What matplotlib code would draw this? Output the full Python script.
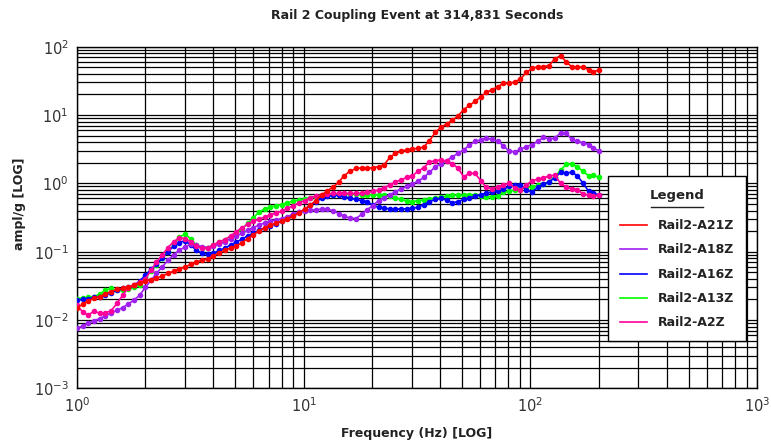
import matplotlib
matplotlib.use("Agg")
import matplotlib.pyplot as plt
from matplotlib.lines import Line2D
from matplotlib.patches import Rectangle
from matplotlib.ticker import LogLocator

# frequency bands (Hz), roughly 1/12 octave
freq = [1.00, 1.06, 1.12, 1.19, 1.26, 1.33, 1.41, 1.50, 1.59, 1.68, 1.78, 1.89,
        2.00, 2.12, 2.24, 2.38, 2.52, 2.67, 2.83, 3.00, 3.17, 3.36, 3.56, 3.78,
        4.00, 4.24, 4.49, 4.76, 5.04, 5.34, 5.66, 5.99, 6.35, 6.73, 7.13, 7.55,
        8.00, 8.48, 8.98, 9.51, 10.1, 10.7, 11.3, 12.0, 12.7, 13.5, 14.3, 15.1,
        16.0, 17.0, 18.0, 19.0, 20.2, 21.4, 22.6, 24.0, 25.4, 26.9, 28.5, 30.2,
        32.0, 33.9, 35.9, 38.1, 40.3, 42.7, 45.3, 48.0, 50.8, 53.8, 57.0, 60.4,
        64.0, 67.8, 71.8, 76.1, 80.6, 85.4, 90.5, 95.9, 102, 108, 114, 121,
        128, 136, 144, 152, 161, 171, 181, 190, 200]

a21z = [0.015, 0.017, 0.019, 0.021, 0.022, 0.024, 0.026, 0.028, 0.029, 0.030, 0.032, 0.035,
        0.037, 0.039, 0.041, 0.044, 0.048, 0.052, 0.056, 0.060, 0.065, 0.071, 0.075, 0.079,
        0.087, 0.095, 0.105, 0.113, 0.121, 0.135, 0.155, 0.178, 0.200, 0.225, 0.245, 0.262,
        0.280, 0.305, 0.330, 0.370, 0.420, 0.480, 0.560, 0.670, 0.780, 0.880, 1.05, 1.30,
        1.50, 1.65, 1.68, 1.66, 1.70, 1.76, 1.85, 2.40, 2.75, 2.95, 3.10, 3.20,
        3.25, 3.40, 4.20, 5.60, 6.60, 7.40, 8.40, 9.70, 12.0, 13.8, 15.8, 18.5,
        21.5, 23.5, 26.0, 29.0, 29.0, 30.5, 33.5, 42.0, 48.0, 51.0, 51.0, 53.0,
        66.0, 74.0, 60.0, 51.0, 50.0, 51.0, 45.6, 43.0, 45.6]

a18z = [0.0075, 0.0082, 0.0090, 0.0098, 0.0105, 0.0115, 0.0125, 0.0138, 0.0152, 0.0170, 0.0195, 0.023,
        0.030, 0.038, 0.048, 0.060, 0.075, 0.090, 0.105, 0.118, 0.128, 0.125, 0.118, 0.115,
        0.120, 0.128, 0.140, 0.155, 0.168, 0.185, 0.205, 0.225, 0.245, 0.265, 0.280, 0.293,
        0.305, 0.325, 0.355, 0.380, 0.400, 0.405, 0.410, 0.420, 0.415, 0.400, 0.360, 0.330,
        0.310, 0.305, 0.350, 0.410, 0.470, 0.560, 0.620, 0.680, 0.750, 0.830, 0.900, 0.980,
        1.08, 1.22, 1.45, 1.75, 1.95, 2.15, 2.45, 2.75, 3.10, 3.60, 4.10, 4.35,
        4.55, 4.40, 4.15, 3.55, 2.95, 2.90, 3.15, 3.45, 3.70, 4.10, 4.70, 4.50,
        4.55, 5.50, 5.50, 4.40, 4.10, 3.95, 3.70, 3.30, 3.00]

a16z = [0.0195, 0.020, 0.0205, 0.0215, 0.022, 0.023, 0.025, 0.027, 0.029, 0.030, 0.032, 0.037,
        0.045, 0.055, 0.065, 0.080, 0.100, 0.120, 0.136, 0.145, 0.125, 0.105, 0.095, 0.092,
        0.095, 0.104, 0.113, 0.125, 0.138, 0.152, 0.170, 0.185, 0.205, 0.222, 0.238, 0.258,
        0.280, 0.310, 0.340, 0.375, 0.410, 0.480, 0.540, 0.600, 0.645, 0.665, 0.670, 0.640,
        0.610, 0.580, 0.560, 0.540, 0.480, 0.445, 0.430, 0.425, 0.420, 0.420, 0.425, 0.430,
        0.450, 0.490, 0.540, 0.580, 0.600, 0.570, 0.520, 0.540, 0.580, 0.610, 0.650, 0.680,
        0.720, 0.750, 0.770, 0.820, 0.900, 0.950, 0.960, 0.800, 0.750, 0.880, 0.980, 1.05,
        1.20, 1.45, 1.42, 1.45, 1.30, 1.00, 0.760, 0.710, 0.680]

a13z = [0.0205, 0.021, 0.0215, 0.022, 0.024, 0.027, 0.029, 0.027, 0.027, 0.028, 0.030, 0.033,
        0.042, 0.052, 0.064, 0.080, 0.100, 0.125, 0.165, 0.180, 0.155, 0.125, 0.113, 0.115,
        0.125, 0.138, 0.150, 0.165, 0.185, 0.215, 0.260, 0.310, 0.380, 0.420, 0.450, 0.470,
        0.490, 0.520, 0.550, 0.570, 0.590, 0.620, 0.640, 0.660, 0.670, 0.680, 0.690, 0.700,
        0.700, 0.690, 0.680, 0.680, 0.680, 0.680, 0.670, 0.650, 0.620, 0.580, 0.550, 0.540,
        0.560, 0.570, 0.590, 0.610, 0.630, 0.650, 0.670, 0.670, 0.670, 0.670, 0.670, 0.660,
        0.640, 0.640, 0.660, 0.740, 0.770, 0.800, 0.830, 0.870, 0.890, 0.930, 0.980, 1.05,
        1.25, 1.55, 1.90, 1.92, 1.75, 1.50, 1.28, 1.32, 1.22]

a2z = [0.0165, 0.0130, 0.0118, 0.0135, 0.0125, 0.0128, 0.0135, 0.0175, 0.023, 0.029, 0.033, 0.036,
       0.040, 0.053, 0.070, 0.090, 0.115, 0.140, 0.160, 0.155, 0.140, 0.120, 0.112, 0.115,
       0.125, 0.140, 0.150, 0.170, 0.195, 0.225, 0.250, 0.280, 0.300, 0.320, 0.345, 0.370,
       0.390, 0.430, 0.470, 0.520, 0.560, 0.620, 0.650, 0.680, 0.700, 0.710, 0.710, 0.710,
       0.710, 0.710, 0.720, 0.740, 0.760, 0.800, 0.860, 0.950, 1.05, 1.12, 1.22, 1.30,
       1.50, 1.70, 2.05, 2.15, 2.20, 2.10, 1.95, 1.65, 1.25, 1.40, 1.40, 1.10,
       0.870, 0.840, 0.890, 0.950, 1.00, 0.850, 0.800, 0.940, 1.10, 1.15, 1.20, 1.28,
       1.32, 1.00, 0.880, 0.840, 0.810, 0.700, 0.670, 0.650, 0.670]

names = ["Rail2-A21Z", "Rail2-A18Z", "Rail2-A16Z", "Rail2-A13Z", "Rail2-A2Z"]
series = [a21z, a18z, a16z, a13z, a2z]
colors = ["#ff0000", "#a020f0", "#0000ff", "#00ff00", "#ff0099"]
draw_order = [3, 2, 1, 4, 0]

fig = plt.figure(figsize=(7.71, 4.44), dpi=100)
ax = fig.add_axes([0.0999, 0.1255, 0.8819, 0.7693])

for i in draw_order:
    ax.plot(freq, series[i], color=colors[i], lw=1.2, marker="o", ms=3.0,
            mec=colors[i], mfc=colors[i], zorder=3)

ax.set_xscale("log")
ax.set_yscale("log")
ax.set_xlim(1, 1000)
ax.set_ylim(1e-3, 100)
ax.xaxis.set_minor_locator(LogLocator(base=10, subs=range(2, 10), numticks=20))
ax.yaxis.set_minor_locator(LogLocator(base=10, subs=range(2, 10), numticks=20))
ax.grid(True, which="both", color="black", lw=0.9)
ax.tick_params(which="both", length=0, labelsize=10.5, labelcolor="#333333", pad=6)
for s in ax.spines.values():
    s.set_color("black")
    s.set_linewidth(1.0)

fig.text(0.541, 1 - 16 / 444, "Rail 2 Coupling Event at 314,831 Seconds",
         ha="center", va="center", fontsize=9, fontweight="bold", color="#222222")
fig.text(0.541, 1 - 433 / 444, "Frequency (Hz) [LOG]", ha="center", va="center",
         fontsize=9, fontweight="bold", color="#222222")
fig.text(20 / 771, 1 - 204 / 444, "ampl/g [LOG]", ha="center", va="center",
         rotation=90, fontsize=9, fontweight="bold", color="#222222")

# legend box
W, H = 771.0, 444.0
fig.patches.append(Rectangle((608 / W, 1 - 341 / H), 138 / W, 165 / H,
                             transform=fig.transFigure, facecolor="white",
                             edgecolor="black", lw=1.0, zorder=5))
fig.text(677 / W, 1 - 196 / H, "Legend", ha="center", va="center",
         fontsize=9.5, fontweight="bold", color="#222222", zorder=6)
fig.lines.append(Line2D([651 / W, 703 / W], [1 - 207 / H, 1 - 207 / H],
                        transform=fig.transFigure, color="#222222", lw=1.0, zorder=6))
rows = [225, 249, 274, 298, 322]
for name, c, yr in zip(names, colors, rows):
    fig.lines.append(Line2D([620 / W, 647 / W], [1 - yr / H, 1 - yr / H],
                            transform=fig.transFigure, color=c, lw=1.2, zorder=6))
    fig.text(658 / W, 1 - yr / H, name, ha="left", va="center", fontsize=9,
             fontweight="bold", color="#222222", zorder=6)

fig.savefig("out.png", dpi=100)
